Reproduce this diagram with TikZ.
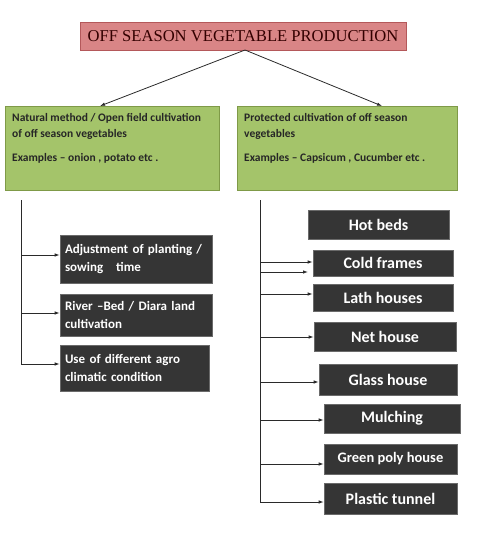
\documentclass[tikz,border=0pt]{standalone}
\usepackage{fontspec}
\setmainfont{Liberation Serif}
\newfontfamily\calib{Carlito}
\usetikzlibrary{arrows.meta}
\definecolor{titlefill}{HTML}{D98586}
\definecolor{titledraw}{HTML}{B4585A}
\definecolor{greenfill}{HTML}{A4C46A}
\definecolor{greendraw}{HTML}{7F9A48}
\definecolor{darkfill}{HTML}{353535}
\definecolor{darkdraw}{HTML}{6A6A6A}
\definecolor{linec}{HTML}{2A2A2A}
\tikzset{
  titlebox/.style={draw=titledraw, line width=0.8pt, fill=titlefill, minimum width=326pt, minimum height=28pt, inner sep=0pt, font=\fontsize{16.6}{18}\selectfont, text=black!80!red},
  greenbox/.style={draw=greendraw, line width=0.8pt, fill=greenfill, inner sep=0pt},
  greentext/.style={anchor=north west, inner sep=0pt, align=left, font=\calib\bfseries\fontsize{11.5}{16}\selectfont, text=black!85},
  darkbox/.style={draw=darkdraw, line width=0.6pt, fill=darkfill, inner sep=0pt, text=white, font=\calib\bfseries\fontsize{16}{18}\selectfont},
  leftdark/.style={darkbox, align=left, text width=#1, font=\calib\bfseries\fontsize{13}{18}\selectfont},
  conn/.style={draw=linec, line width=0.8pt},
  arr/.style={conn, -{Latex[length=5pt,width=3.5pt]}},
}
\begin{document}
\begin{tikzpicture}[x=1pt,y=-1pt]
\useasboundingbox (0,0) rectangle (480,556);
% title
\node[titlebox] (title) at (243,36) {OFF SEASON VEGETABLE PRODUCTION};
% green boxes
\node[greenbox, minimum width=214pt, minimum height=84pt] (nat) at (112,148) {};
\node[greenbox, minimum width=220pt, minimum height=84pt] (prot) at (347,148) {};
\node[greentext] (natt) at (12,113) {Natural method / Open field cultivation\\of off season vegetables\\[8pt]Examples – onion , potato etc .};
\node[greentext] (prott) at (244,113) {Protected cultivation of off season\\vegetables\\[8pt]Examples – Capsicum , Cucumber etc .};
\coordinate (tb) at (245,50);
\draw[arr] (tb) -- (100,106) coordinate (natin);
\draw[arr] (tb) -- (382,106) coordinate (protin);
% left branch
\coordinate (ltop) at (21,200);
\coordinate (lbot) at (21,364);
\node[leftdark=142pt, minimum width=152pt, minimum height=48pt] (adj) at (136,259) {Adjustment of planting /\\sowing\quad time};
\node[leftdark=142pt, minimum width=152pt, minimum height=42pt] (river) at (136,315) {River –Bed / Diara land\\cultivation};
\node[leftdark=139pt, minimum width=149pt, minimum height=46pt] (agro) at (134.5,368) {Use of different agro\\climatic condition};
\draw[conn] (ltop) -- (lbot);
\draw[arr] (ltop |- 0,255) -- (adj.west |- 0,255);
\draw[arr] (ltop |- 0,313) -- (river.west |- 0,313);
\draw[arr] (lbot) -- (agro.west |- lbot);
% right branch
\coordinate (rtop) at (260,200);
\coordinate (rbot) at (260,502);
\node[darkbox, minimum width=141pt, minimum height=29pt] (hot) at (378.5,224.5) {Hot beds};
\node[darkbox, minimum width=140pt, minimum height=26pt] (cold) at (383,263) {Cold frames};
\node[darkbox, minimum width=140pt, minimum height=27pt] (lath) at (383,297.5) {Lath houses};
\node[darkbox, minimum width=142pt, minimum height=29pt] (net) at (385,336.5) {Net house};
\node[darkbox, minimum width=138pt, minimum height=31pt] (glass) at (388,379.5) {Glass house};
\node[darkbox, minimum width=136pt, minimum height=29pt] (mulch) at (392,418.5) {Mulching};
\node[darkbox, minimum width=133pt, minimum height=30pt, font=\calib\bfseries\fontsize{14.5}{18}\selectfont] (green) at (390.5,459) {Green poly house};
\node[darkbox, minimum width=133pt, minimum height=31pt] (tunnel) at (390.5,498.5) {Plastic tunnel};
\draw[conn] (rtop) -- (rbot);
\coordinate (stray) at (308,272);
\draw[arr] (rtop |- 0,262) -- (cold.west |- 0,262);
\draw[arr] (rtop |- stray) -- (stray);
\draw[arr] (rtop |- 0,294) -- (lath.west |- 0,294);
\draw[arr] (rtop |- 0,337) -- (net.west |- 0,337);
\draw[arr] (rtop |- 0,382) -- (glass.west |- 0,382);
\draw[arr] (rtop |- 0,420) -- (mulch.west |- 0,420);
\draw[arr] (rtop |- 0,464) -- (green.west |- 0,464);
\draw[arr] (rbot) -- (tunnel.west |- rbot);
\end{tikzpicture}
\end{document}
